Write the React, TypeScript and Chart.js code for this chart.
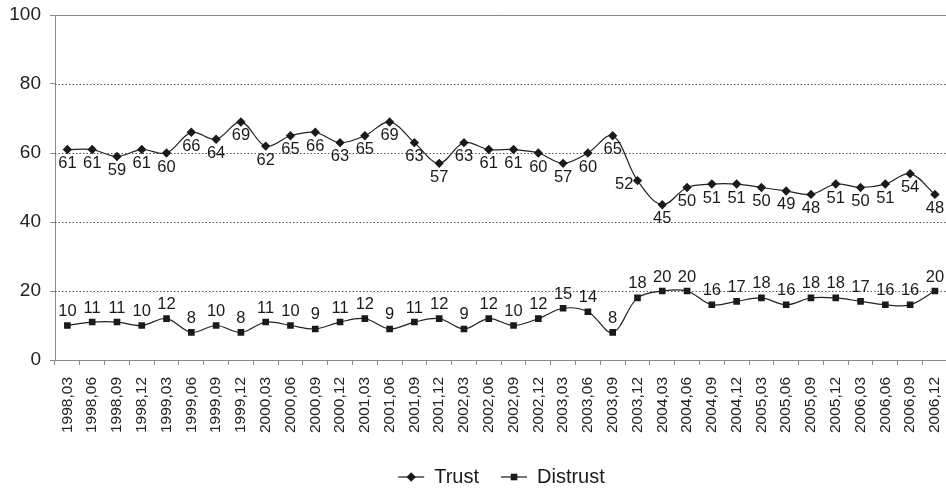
import React, { useEffect, useRef } from "react";
import { Chart, registerables } from "chart.js";

Chart.register(...registerables);

const categories = [
  "1998,03", "1998,06", "1998,09", "1998,12",
  "1999,03", "1999,06", "1999,09", "1999,12",
  "2000,03", "2000,06", "2000,09", "2000,12",
  "2001,03", "2001,06", "2001,09", "2001,12",
  "2002,03", "2002,06", "2002,09", "2002,12",
  "2003,03", "2003,06", "2003,09", "2003,12",
  "2004,03", "2004,06", "2004,09", "2004,12",
  "2005,03", "2005,06", "2005,09", "2005,12",
  "2006,03", "2006,06", "2006,09", "2006,12",
];

const trust = [
  61, 61, 59, 61,
  60, 66, 64, 69,
  62, 65, 66, 63,
  65, 69, 63, 57,
  63, 61, 61, 60,
  57, 60, 65, 52,
  45, 50, 51, 51,
  50, 49, 48, 51,
  50, 51, 54, 48,
];

const distrust = [
  10, 11, 11, 10,
  12, 8, 10, 8,
  11, 10, 9, 11,
  12, 9, 11, 12,
  9, 12, 10, 12,
  15, 14, 8, 18,
  20, 20, 16, 17,
  18, 16, 18, 18,
  17, 16, 16, 20,
];

const yTickValues = [0, 20, 40, 60, 80, 100];
const seriesNames = ["Trust", "Distrust"];

const FONT = "'Liberation Sans', Arial, sans-serif";
const INK = "#1a1a1a";
const AXIS = "#8a8a8a";

function drawMarker(ctx: CanvasRenderingContext2D, style: string, x: number, y: number) {
  ctx.beginPath();
  if (style === "rectRot") {
    const r = 4.7;
    ctx.moveTo(x, y - r);
    ctx.lineTo(x + r, y);
    ctx.lineTo(x, y + r);
    ctx.lineTo(x - r, y);
    ctx.closePath();
  } else {
    const h = 3.3;
    ctx.rect(x - h, y - h, 2 * h, 2 * h);
  }
  ctx.fillStyle = INK;
  ctx.fill();
}

const gridPlugin = {
  id: "customGrid",
  beforeDatasetsDraw(chart: any) {
    const { ctx, chartArea, scales } = chart;
    const y = scales.y;
    ctx.save();
    ctx.lineWidth = 1;
    yTickValues.forEach((v) => {
      if (v === 0) return;
      const py = Math.round(y.getPixelForValue(v)) + 0.5;
      if (v === 100) {
        ctx.setLineDash([]);
        ctx.strokeStyle = AXIS;
      } else {
        ctx.setLineDash([1.5, 2]);
        ctx.strokeStyle = "#555";
      }
      ctx.beginPath();
      ctx.moveTo(chartArea.left, py);
      ctx.lineTo(chartArea.right, py);
      ctx.stroke();
    });
    ctx.restore();
  },
};

const labelPlugin = {
  id: "valueLabels",
  afterDatasetsDraw(chart: any) {
    const { ctx } = chart;
    ctx.save();
    ctx.font = `16.5px ${FONT}`;
    ctx.fillStyle = INK;
    chart.data.datasets.forEach((ds: any, di: number) => {
      const meta = chart.getDatasetMeta(di);
      const vals: number[] = ds.data;
      meta.data.forEach((pt: any, i: number) => {
        const v = vals[i];
        const prev = i > 0 ? vals[i - 1] : v;
        const next = i < vals.length - 1 ? vals[i + 1] : v;
        if (di === 0) {
          if (prev - v >= 8 && v - next >= 5) {
            ctx.textAlign = "right";
            ctx.textBaseline = "middle";
            ctx.fillText(String(v), pt.x - 4, pt.y + 4);
          } else {
            ctx.textAlign = "center";
            ctx.textBaseline = "middle";
            ctx.fillText(String(v), pt.x, pt.y + 14);
          }
        } else {
          ctx.textAlign = "center";
          ctx.textBaseline = "middle";
          ctx.fillText(String(v), pt.x, pt.y - 14);
        }
      });
    });
    ctx.restore();
  },
};

const legendPlugin = {
  id: "lineLegend",
  afterDraw(chart: any) {
    const { ctx } = chart;
    ctx.save();
    ctx.font = `20px ${FONT}`;
    const lineLen = 26;
    const gapText = 10;
    const gapItem = 22;
    const styles = chart.data.datasets.map((d: any) => d.pointStyle);
    const widths = seriesNames.map((n) => lineLen + gapText + ctx.measureText(n).width);
    const total = widths.reduce((a, b) => a + b, 0) + gapItem * (seriesNames.length - 1);
    let x = 501.5 - total / 2;
    const cy = 477;
    seriesNames.forEach((n, i) => {
      ctx.strokeStyle = INK;
      ctx.lineWidth = 1.2;
      ctx.beginPath();
      ctx.moveTo(x, cy);
      ctx.lineTo(x + lineLen, cy);
      ctx.stroke();
      drawMarker(ctx, styles[i], x + lineLen / 2, cy);
      ctx.fillStyle = INK;
      ctx.textAlign = "left";
      ctx.textBaseline = "middle";
      ctx.fillText(n, x + lineLen + gapText, cy);
      x += widths[i] + gapItem;
    });
    ctx.restore();
  },
};

export default function App() {
  const ref = useRef<HTMLCanvasElement | null>(null);

  useEffect(() => {
    if (!ref.current) return;
    const chart = new Chart(ref.current, {
      type: "line",
      data: {
        labels: categories,
        datasets: [
          {
            label: seriesNames[0],
            data: trust,
            borderColor: "#222",
            borderWidth: 1.2,
            pointStyle: "rectRot",
            pointRadius: 4.7,
            pointBackgroundColor: INK,
            pointBorderColor: INK,
            pointBorderWidth: 0,
            tension: 0.35,
            fill: false,
          },
          {
            label: seriesNames[1],
            data: distrust,
            borderColor: "#222",
            borderWidth: 1.2,
            pointStyle: "rect",
            pointRadius: 4.7,
            pointBackgroundColor: INK,
            pointBorderColor: INK,
            pointBorderWidth: 0,
            tension: 0.35,
            fill: false,
          },
        ],
      },
      options: {
        animation: false,
        responsive: false,
        maintainAspectRatio: false,
        devicePixelRatio: 1,
        layout: { padding: { top: 15, bottom: 45, left: 0, right: 0 } },
        plugins: {
          legend: { display: false },
          tooltip: { enabled: false },
          title: { display: false },
        },
        scales: {
          x: {
            type: "category",
            offset: true,
            grid: {
              offset: true,
              drawOnChartArea: false,
              drawTicks: true,
              tickLength: 5,
              color: AXIS,
            },
            border: { display: true, color: AXIS, width: 1 },
            ticks: {
              autoSkip: false,
              minRotation: 90,
              maxRotation: 90,
              padding: 12,
              color: "#222",
              font: { family: FONT, size: 15.5 },
            },
            afterFit: (s: any) => {
              s.height = 85;
              s.paddingLeft = 0;
              s.paddingRight = 0;
            },
          },
          y: {
            min: 0,
            max: 100,
            grid: {
              drawOnChartArea: false,
              drawTicks: true,
              tickLength: 5,
              color: AXIS,
            },
            border: { display: true, color: AXIS, width: 1 },
            ticks: {
              stepSize: 20,
              padding: 9,
              color: "#222",
              font: { family: FONT, size: 19 },
            },
            afterFit: (s: any) => {
              s.width = 55;
              s.paddingTop = 0;
              s.paddingBottom = 0;
            },
          },
        },
      },
      plugins: [gridPlugin, labelPlugin, legendPlugin],
    });
    return () => chart.destroy();
  }, []);

  return (
    <div
      style={{
        position: "fixed",
        left: 0,
        top: 0,
        width: 946,
        height: 490,
        overflow: "hidden",
        background: "#fff",
      }}
    >
      <canvas ref={ref} width={952} height={490} style={{ display: "block" }} />
    </div>
  );
}
